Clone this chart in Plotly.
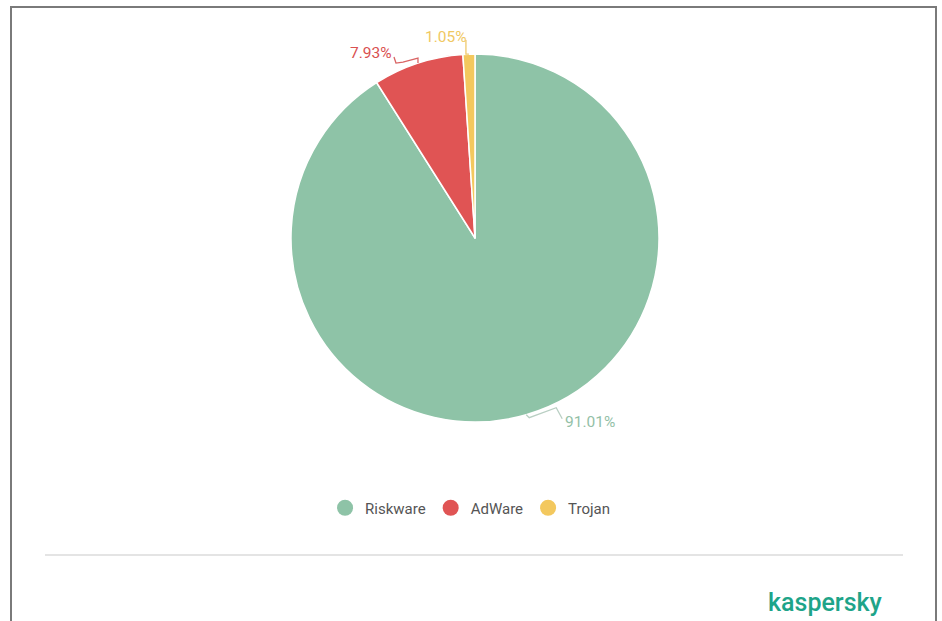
import math
import plotly.graph_objects as go

# ---- data ----
categories = ["Riskware", "AdWare", "Trojan"]
values = [91.01, 7.93, 1.05]
label_texts = ["91.01%", "7.93%", "1.05%"]

# ---- style ----
W, H = 942, 621
colors = ["#8ec3a7", "#e05454", "#f3c85e"]
text_colors = ["#93bfa7", "#d95050", "#f0c862"]
line_colors = ["#b9cfc3", "#d96464", "#efcb6e"]
CX, CY, R = 475, 238, 184  # pie centre / radius in pixels

def px(x):
    return x / W

def py(y):
    return 1 - y / H

fig = go.Figure()

fig.add_trace(go.Pie(
    labels=categories, values=values, sort=False, direction="clockwise",
    rotation=0, marker=dict(colors=colors, line=dict(color="white", width=1.5)),
    textinfo="none", hoverinfo="label+percent", showlegend=False,
    domain=dict(x=[px(CX - R), px(CX + R)], y=[py(CY + R), py(CY - R)]),
))

# legend via dummy circle traces
for c, col in zip(categories, colors):
    fig.add_trace(go.Scatter(x=[None], y=[None], mode="markers", name=c,
                             marker=dict(color=col, size=18, symbol="circle")))

# leader lines + labels computed from slice mid-angles
total = sum(values)
cum = 0
bends = [
    [(3, 3), (30, -7), (36, 4)],
    [(0, -5), (-15, -1), (-22, 0), (-24, -6)],
    [(-3, 0), (-3, -14)],
]
label_off = [(37, 7), (-24, -10), (0, -17)]
anchors = ["left", "right", "right"]
shapes = []
annotations = []
for i, v in enumerate(values):
    mid = (cum + v / 2) / total * 2 * math.pi
    cum += v
    ex = CX + R * math.sin(mid)
    ey = CY - R * math.cos(mid)
    pts = [(ex, ey)] + [(ex + dx, ey + dy) for dx, dy in bends[i]]
    path = "M " + " L ".join(f"{px(a):.5f},{py(b):.5f}" for a, b in pts)
    shapes.append(dict(type="path", xref="paper", yref="paper", path=path,
                       line=dict(color=line_colors[i], width=1.3)))
    lx, ly = ex + label_off[i][0], ey + label_off[i][1]
    annotations.append(dict(x=px(lx), y=py(ly), xref="paper", yref="paper",
                            text=label_texts[i], showarrow=False,
                            xanchor=anchors[i], yanchor="middle",
                            font=dict(family="Roboto", size=15.5, color=text_colors[i])))

# frame border and separator
shapes.append(dict(type="path", xref="paper", yref="paper",
                   path=f"M {px(11)},{py(640)} L {px(11)},{py(7)} L {px(936)},{py(7)} L {px(936)},{py(640)}",
                   line=dict(color="#7a7a7a", width=2)))
shapes.append(dict(type="line", xref="paper", yref="paper",
                   x0=px(45), x1=px(903), y0=py(555), y1=py(555),
                   line=dict(color="#e4e4e4", width=2)))

annotations.append(dict(x=px(825), y=py(602), xref="paper", yref="paper",
                        text="kaspersky", showarrow=False, xanchor="center", yanchor="middle",
                        font=dict(family="Roboto", size=25, color="#1ea489", weight=500)))

fig.update_layout(
    width=W, height=H, margin=dict(l=0, r=0, t=0, b=0),
    paper_bgcolor="white", plot_bgcolor="white",
    xaxis=dict(visible=False), yaxis=dict(visible=False),
    showlegend=True,
    legend=dict(orientation="h", x=0.499, xanchor="center", y=py(508), yanchor="middle",
                font=dict(family="Roboto", size=15, color="#555555"),
                itemsizing="trace"),
    shapes=shapes, annotations=annotations,
)

fig.write_html("out.html", config={"displayModeBar": False},
               post_script="document.body.style.margin='0';document.body.style.overflow='hidden';")
